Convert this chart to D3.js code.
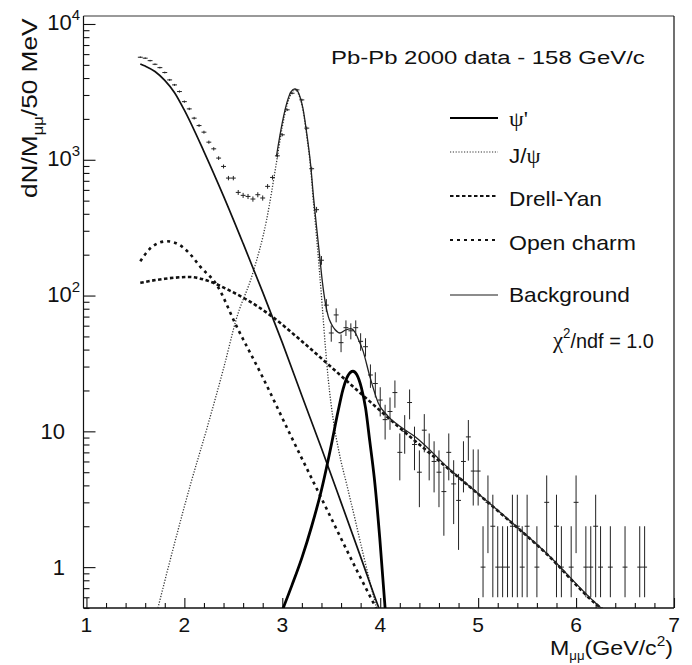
<!DOCTYPE html>
<html>
<head>
<meta charset="utf-8">
<script src="https://cdn.jsdelivr.net/npm/d3@7/dist/d3.min.js"></script>
<style>
  body { margin: 0; background: #fff; }
  svg { display: block; }
  text, tspan { font-family: "Liberation Sans", Arial, Helvetica, sans-serif; fill: #111; }
  .greek { font-family: "Liberation Serif", "DejaVu Serif", serif; fill: #111; }
</style>
</head>
<body>
<div id="drawingfield"></div>
<script>
// ---- data ----
// dimuon mass bins (GeV/c2), 50 MeV wide, first bin centre 1.55
var binStart = 1.55, binWidth = 0.05;
// counts per bin (null = empty bin, not drawn)
var counts = [
  5690, 5600, 5370, 5050, 4770, 4390, 3875, 3560, 3180, 2680,
  2370, 2025, 1786, 1597, 1348, 1204, 1029, 893, 733, 733,
  575, 547, 537, 514, 553, 523, 637, 741, 1069, 1527,
  2333, 3090, 3270, 2760, 1710, 859, 429, 182, 85, 53,
  72, 45, 58, 55, 58, 46, 42, 26, 22.5, 17,
  12.2, 14, 19.3, 7, 10, 16.3, 8, 5, 10.2, 7,
  6, 5, 3.6, 7, 4.1, 3.1, 6, 9.1, 5.1, 5.1,
  1, 3, 2, 1, 1, 1, 2, 2, 1, 2,
  null, 1, null, 3, null, 2, 1, null, 1, 3,
  null, 1, 1, 2, 1, null, 1, null, null, 1,
  null, null, 1, 1
];

// fitted components (mass, dN/dM)
var bgMass = [1.55, 1.6, 1.7, 1.8, 1.9, 2.0, 2.2, 2.4, 2.6, 2.8, 3.0, 3.2, 3.4, 3.6, 3.8, 4.0, 4.05];
var bgVal  = [5080, 4900, 4470, 3840, 3120, 2320, 1150, 540, 242, 106, 45, 18.3, 7.5, 3.0, 1.19, 0.47, 0.38];

var jpsiMass = [1.73, 1.9, 2.06, 2.23, 2.4, 2.53, 2.7, 2.84, 2.94, 3.0, 3.05, 3.09, 3.128, 3.17, 3.21, 3.25, 3.29, 3.32, 3.35, 3.38, 3.41, 3.44, 3.47, 3.52, 3.58, 3.66, 3.74, 3.82, 3.9, 3.97];
var jpsiVal  = [0.5, 1.5, 4.0, 10.5, 29, 67, 147, 362, 950, 1750, 2550, 3050, 3300, 3000, 2350, 1500, 860, 470, 270, 150, 80, 42, 24, 12.2, 7, 4.0, 2.3, 1.3, 0.75, 0.48];

var psipMass = [3.0, 3.1, 3.2, 3.3, 3.4, 3.5, 3.57, 3.62, 3.67, 3.722, 3.76, 3.808, 3.85, 3.893, 3.94, 3.995, 4.05];
var psipVal  = [0.48, 0.74, 1.17, 2.0, 3.7, 7.9, 14.1, 20.4, 25.7, 27.7, 26.2, 20.9, 14.9, 8.5, 4.5, 1.65, 0.5];

var dyMass = [1.55, 1.8, 2.05, 2.26, 2.45, 2.635, 2.89, 3.18, 3.45, 3.82, 4.2, 4.71, 5.2, 5.7, 6.21, 6.27];
var dyVal  = [124, 133, 137, 127, 110, 93.5, 70.5, 47.4, 32, 18.5, 10.6, 5.2, 2.6, 1.25, 0.53, 0.49];

var ocMass = [1.55, 1.65, 1.75, 1.82, 1.95, 2.05, 2.16, 2.33, 2.53, 2.8, 3.08, 3.42, 3.76, 3.97];
var ocVal  = [179, 222, 246, 251, 236, 205, 164, 120, 60, 25, 9.5, 3.0, 0.95, 0.48];

var totMass = [2.94, 3.0, 3.05, 3.09, 3.128, 3.17, 3.21, 3.25, 3.29, 3.32, 3.35, 3.38, 3.41, 3.44, 3.47, 3.5, 3.54, 3.59, 3.64, 3.7, 3.74, 3.78, 3.825, 3.89, 3.98, 4.08, 4.2, 4.35, 4.71, 5.2, 5.7, 6.21, 6.27];
var totVal  = [1060, 1880, 2680, 3180, 3330, 3060, 2410, 1560, 910, 520, 320, 200, 125, 88, 70, 62, 56, 53, 55.5, 57, 54, 47, 39, 26, 16.2, 12.9, 10.9, 9.2, 5.25, 2.62, 1.26, 0.535, 0.49];

var xTicks = [1, 2, 3, 4, 5, 6, 7];
var yDecades = [1, 10, 100, 1000, 10000];

// ---- layout ----
var width = 692, height = 665;
var plotL = 83.5, plotR = 674, plotT = 16, plotB = 608;

var x = d3.scaleLinear().domain([0.97, 7]).range([plotL, plotR]);
var y = d3.scaleLog().domain([0.5, 11450]).range([plotB, plotT]);

var svg = d3.select("#drawingfield").append("svg")
  .attr("width", width).attr("height", height);

svg.append("clipPath").attr("id", "plotclip")
  .append("rect").attr("x", plotL).attr("y", plotT)
  .attr("width", plotR - plotL).attr("height", plotB - plotT);

// stretch a text element horizontally to a measured width
function fit(t, w) {
  var bw = t.node().getBBox().width;
  t.attr("transform", "scale(" + (w / bw) + ",1)");
}

// ---- frame ----
svg.append("line").attr("x1", plotL).attr("x2", plotR).attr("y1", plotT).attr("y2", plotT)
  .attr("stroke", "#777").attr("stroke-width", 1.5);
svg.append("line").attr("x1", plotR).attr("x2", plotR).attr("y1", plotT).attr("y2", plotB)
  .attr("stroke", "#111").attr("stroke-width", 1.2);

// ---- axes (ticks point inwards) ----
var xMinor = d3.range(5, 35).map(function(i) { return i / 5; }).filter(function(v) { return v % 1 !== 0; });
svg.append("g").attr("transform", "translate(0," + plotB + ")")
  .call(d3.axisBottom(x).tickValues(xMinor).tickSize(-5).tickFormat(""))
  .call(function(g) { g.select(".domain").remove(); });
svg.append("g").attr("transform", "translate(0," + plotB + ")")
  .call(d3.axisBottom(x).tickValues(xTicks).tickSize(-10).tickFormat(""))
  .call(function(g) { g.select(".domain").remove(); });

var yMinor = [];
[0.1, 1, 10, 100, 1000].forEach(function(dec) {
  for (var k = 2; k <= 9; k++) {
    var v = dec * k;
    if (v >= 0.5 && v <= 11450) yMinor.push(v);
  }
});
svg.append("g").attr("transform", "translate(" + plotL + ",0)")
  .call(d3.axisLeft(y).tickValues(yMinor).tickSize(-6).tickFormat(""))
  .call(function(g) { g.select(".domain").remove(); });
svg.append("g").attr("transform", "translate(" + plotL + ",0)")
  .call(d3.axisLeft(y).tickValues(yDecades).tickSize(-12).tickFormat(""))
  .call(function(g) { g.select(".domain").remove(); });

svg.selectAll(".tick line").attr("stroke", "#111").attr("stroke-width", 1.1);

svg.append("line").attr("x1", plotL).attr("x2", plotR).attr("y1", plotB).attr("y2", plotB)
  .attr("stroke", "#111").attr("stroke-width", 1.5);
svg.append("line").attr("x1", plotL).attr("x2", plotL).attr("y1", plotT).attr("y2", plotB)
  .attr("stroke", "#111").attr("stroke-width", 1.2);

// x tick labels
svg.append("g").selectAll("text").data(xTicks).enter().append("text")
  .attr("x", function(d) { return x(d); })
  .attr("y", 632)
  .attr("text-anchor", "middle")
  .style("font-size", "21px")
  .text(function(d) { return d; });

// y tick labels
yDecades.forEach(function(d) {
  var p = Math.round(Math.log10(d));
  var t = svg.append("text").attr("text-anchor", "end").style("font-size", "22px");
  if (p < 2) {
    t.attr("x", 65).attr("y", y(d) + 8).text(d);
  } else {
    t.attr("x", 80).attr("y", y(d) + 6);
    t.append("tspan").text("10");
    t.append("tspan").attr("dy", -10).style("font-size", "15px").text(p);
  }
});

// axis titles
var yt = svg.append("g").attr("transform", "translate(37,198) rotate(-90)")
  .append("text").style("font-size", "22px");
yt.append("tspan").text("dN/M");
yt.append("tspan").attr("dy", 6).style("font-size", "14px").text("μμ");
yt.append("tspan").attr("dy", -6).text("/50 MeV");
fit(yt, 180);

var xt = svg.append("g").attr("transform", "translate(673,655)")
  .append("text").attr("text-anchor", "end").style("font-size", "21px");
xt.append("tspan").text("M");
xt.append("tspan").attr("dy", 5).style("font-size", "12px").text("μμ");
xt.append("tspan").attr("dy", -5).text("(GeV/c");
xt.append("tspan").attr("dy", -9).style("font-size", "14px").text("2");
xt.append("tspan").attr("dy", 9).text(")");
fit(xt, 123);

// ---- plot ----
var plot = svg.append("g").attr("clip-path", "url(#plotclip)");

var line = d3.line()
  .x(function(d) { return x(d[0]); })
  .y(function(d) { return y(d[1]); })
  .curve(d3.curveMonotoneX);

function pairs(ms, vs) { return ms.map(function(m, i) { return [m, vs[i]]; }); }

var styles = {
  jpsi: { stroke: "#333", width: 1.3, dash: "1.2,1.6" },
  oc:   { stroke: "#111", width: 2.6, dash: "3,4" },
  dy:   { stroke: "#111", width: 2.6, dash: "3.5,2.5" },
  bg:   { stroke: "#111", width: 1.7, dash: null },
  psip: { stroke: "#000", width: 2.8, dash: null },
  tot:  { stroke: "#222", width: 1.3, dash: null }
};

var curves = [
  ["jpsi", pairs(jpsiMass, jpsiVal)],
  ["oc", pairs(ocMass, ocVal)],
  ["dy", pairs(dyMass, dyVal)],
  ["bg", pairs(bgMass, bgVal)],
  ["psip", pairs(psipMass, psipVal)],
  ["tot", pairs(totMass, totVal)]
];

curves.forEach(function(c) {
  var s = styles[c[0]];
  plot.append("path")
    .attr("d", line(c[1]))
    .attr("fill", "none")
    .attr("stroke", s.stroke)
    .attr("stroke-width", s.width)
    .attr("stroke-dasharray", s.dash);
});

// data points with sqrt(N) errors
var pts = counts.map(function(v, i) {
  return { m: binStart + i * binWidth, v: v };
}).filter(function(d) { return d.v !== null; });

var pg = plot.append("g").attr("stroke", "#222").attr("stroke-width", 1);
pg.selectAll(".hb").data(pts).enter().append("line")
  .attr("x1", function(d) { return x(d.m - binWidth / 2); })
  .attr("x2", function(d) { return x(d.m + binWidth / 2); })
  .attr("y1", function(d) { return y(d.v); })
  .attr("y2", function(d) { return y(d.v); });
pg.selectAll(".vb").data(pts).enter().append("line")
  .attr("x1", function(d) { return x(d.m); })
  .attr("x2", function(d) { return x(d.m); })
  .attr("y1", function(d) { return y(d.v + Math.sqrt(d.v)); })
  .attr("y2", function(d) { return y(Math.max(d.v - Math.sqrt(d.v), 0.6)); });

// ---- text and legend ----
var title = svg.append("g").attr("transform", "translate(331,64)")
  .append("text").style("font-size", "19px").text("Pb-Pb 2000 data - 158 GeV/c");
fit(title, 314);

var legend = [
  { key: "psip", ly: 118, ty: 126, w: 19, lw: 2.2 },
  { key: "jpsi", ly: 152, ty: 163, w: 32, lw: 1.1 },
  { key: "dy", ly: 196, ty: 206, w: 93, lw: 2.2 },
  { key: "oc", ly: 240, ty: 250, w: 127, lw: 2.2 },
  { key: "bg", ly: 295, ty: 302, w: 121, lw: 1.4 }
];

legend.forEach(function(e) {
  var s = styles[e.key];
  svg.append("line").attr("x1", 450).attr("x2", 498).attr("y1", e.ly).attr("y2", e.ly)
    .attr("stroke", e.key === "bg" ? "#666" : s.stroke)
    .attr("stroke-width", e.lw)
    .attr("stroke-dasharray", s.dash);
  var t = svg.append("g").attr("transform", "translate(509," + e.ty + ")")
    .append("text").style("font-size", "20px");
  if (e.key === "psip") {
    t.append("tspan").attr("class", "greek").text("ψ'");
  } else if (e.key === "jpsi") {
    t.append("tspan").text("J/");
    t.append("tspan").attr("class", "greek").text("ψ");
  } else if (e.key === "dy") {
    t.text("Drell-Yan");
  } else if (e.key === "oc") {
    t.text("Open charm");
  } else {
    t.text("Background");
  }
  fit(t, e.w);
});

var chi = svg.append("g").attr("transform", "translate(553,348)")
  .append("text").style("font-size", "21px");
chi.append("tspan").attr("class", "greek").style("font-size", "24px").text("χ");
chi.append("tspan").attr("dy", -10).style("font-size", "14px").text("2");
chi.append("tspan").attr("dy", 10).text("/ndf = 1.0");
fit(chi, 102);
</script>
</body>
</html>
